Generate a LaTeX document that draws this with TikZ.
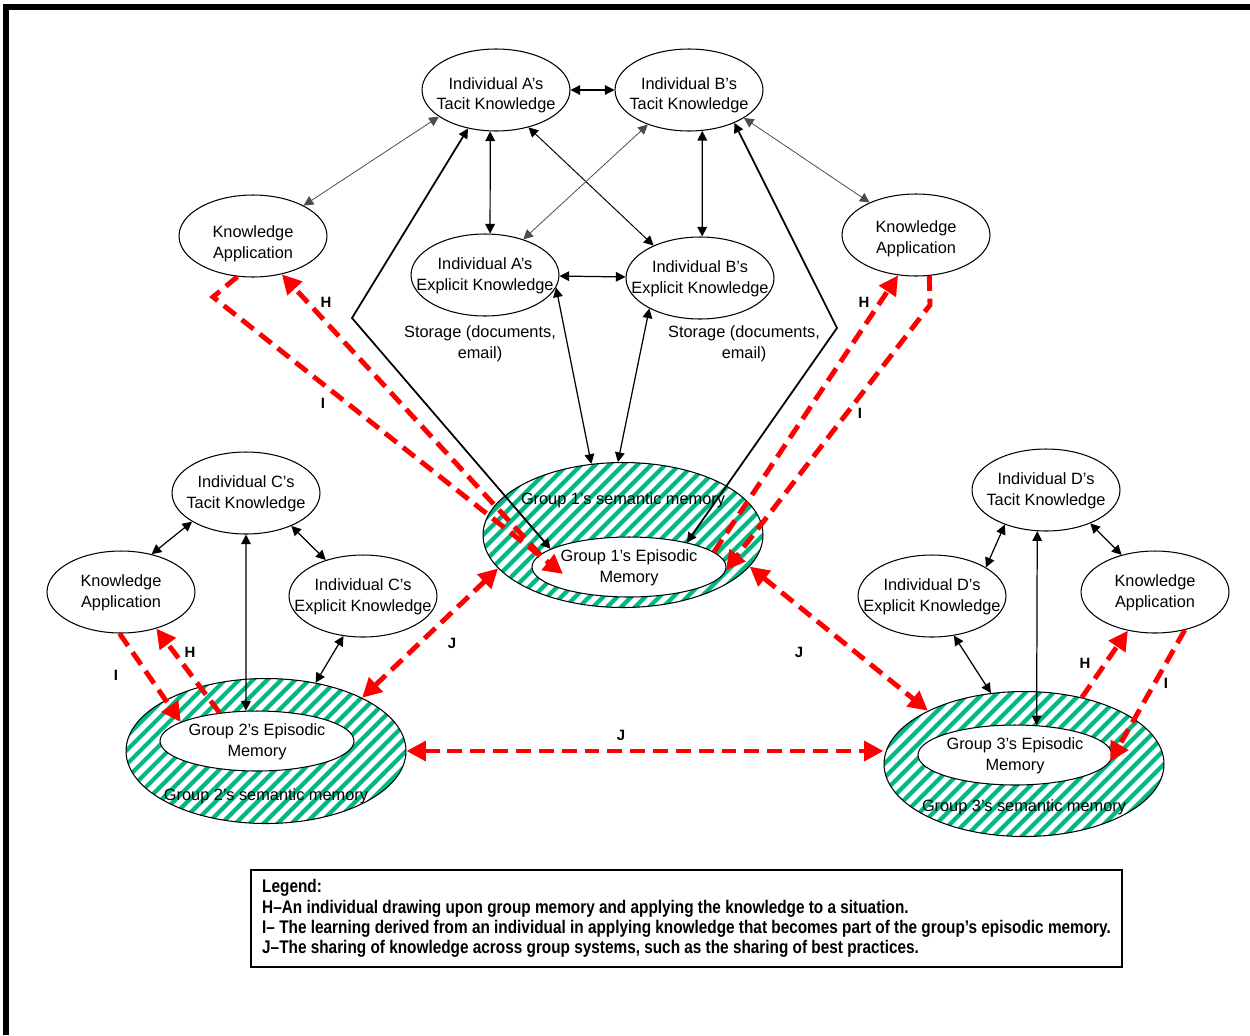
\documentclass[tikz,border=0pt]{standalone}
\usepackage{fontspec}
\setmainfont{Liberation Sans}
\newfontfamily\legendfont{Liberation Sans}[FakeStretch=0.84, Ligatures=TeX]
\usetikzlibrary{arrows.meta, shapes.geometric}

\definecolor{hatchgreen}{RGB}{0,184,132}
% two centred lines that do not widen the ellipse; optional drop of the text
\newcommand{\twoline}[2][0pt]{\raisebox{\dimexpr-2.5pt-#1\relax}[12pt][12pt]{%
    \makebox[0pt]{\begin{tabular}{@{}c@{}}#2\end{tabular}}}}

\begin{document}
\begin{tikzpicture}[
    x=0.02cm, y=-0.02cm,
    >={Triangle[length=5.5pt, width=5.5pt]},
    font=\fontsize{9.3}{11.9}\selectfont,
    ell/.style={ellipse, draw, line width=0.6pt, inner sep=0pt,
                minimum width=2.96cm, minimum height=1.64cm},
    sem/.style={ellipse, draw, line width=0.6pt, inner sep=0pt,
                minimum width=5.6cm, minimum height=2.9cm},
    epi/.style={ellipse, draw, fill=white, line width=0.6pt, inner sep=0pt,
                minimum width=3.88cm, minimum height=1.2cm},
    stripe/.style={draw=hatchgreen, line width=2.4pt},
    link/.style={<->, line width=0.7pt},
    faint/.style={<->, line width=0.45pt, draw=black!70},
    heavy/.style={<->, line width=1pt},
    rdash/.style={draw=red, line width=2.8pt, dash pattern=on 8.5pt off 4.5pt},
    hline/.style={rdash, >={Triangle[length=11pt, width=11pt]}, ->},
    jline/.style={rdash, >={Triangle[length=11pt, width=11pt]}, <->},
    tag/.style={font=\bfseries\fontsize{8.5}{10}\selectfont},
    legend/.style={draw, line width=1pt, inner sep=0pt, align=left,
                   minimum width=17.42cm, minimum height=1.94cm,
                   font=\legendfont\bfseries\fontsize{10.4}{11.6}\selectfont},
]
    \useasboundingbox (0,0) rectangle (1250,1035);

    % page frame, top and left edge only
    \draw[line width=3pt] (6,1035) -- (6,7) -- (1250,7);

    % group memories: hatched semantic ring
    \foreach \g/\cx/\cy in {1/623/535, 2/266/751, 3/1024/764} {
        \begin{scope}
            \clip (\cx,\cy) ellipse [x radius=2.8cm, y radius=1.45cm];
            \foreach \k in {-18,...,18}
                \draw[stripe] (\cx+\k*14-160, \cy+160) -- ++(320,-320);
        \end{scope}
        \node[sem] (sem\g) at (\cx,\cy) {};
    }

    % episodic cores and ring labels
    \node[epi] (epi1) at (629,567) {\twoline{Group 1's Episodic\\Memory}};
    \node[epi] (epi2) at (257,741) {\twoline{Group 2's Episodic\\Memory}};
    \node[epi] (epi3) at (1015,755) {\twoline{Group 3's Episodic\\Memory}};
    \node (lab1) at (623,500) {Group 1's semantic memory};
    \node (lab2) at (266,796) {Group 2's semantic memory};
    \node (lab3) at (1024,807) {Group 3's semantic memory};

    % individuals A and B
    \node[ell] (tacA) at (496,90) {\twoline[2.8pt]{Individual A's\\Tacit Knowledge}};
    \node[ell] (tacB) at (689,90) {\twoline[2.8pt]{Individual B's\\Tacit Knowledge}};
    \node[ell] (expA) at (485,275) {\twoline{Individual A's\\Explicit Knowledge}};
    \node[ell] (expB) at (700,278) {\twoline{Individual B's\\Explicit Knowledge}};
    \node[ell] (appA) at (253,236) {\twoline[4pt]{Knowledge\\Application}};
    \node[ell] (appB) at (916,235) {\twoline[2pt]{Knowledge\\Application}};
    \node[align=center] (stoA) at (480,344) {Storage (documents,\\email)};
    \node[align=center] (stoB) at (744,344) {Storage (documents,\\email)};

    % individual C
    \node[ell] (tacC) at (246,493) {\twoline{Individual C's\\Tacit Knowledge}};
    \node[ell] (appC) at (121,592) {\twoline{Knowledge\\Application}};
    \node[ell] (expC) at (363,596) {\twoline{Individual C's\\Explicit Knowledge}};

    % individual D
    \node[ell] (tacD) at (1046,490) {\twoline{Individual D's\\Tacit Knowledge}};
    \node[ell] (expD) at (932,596) {\twoline{Individual D's\\Explicit Knowledge}};
    \node[ell] (appD) at (1155,592) {\twoline{Knowledge\\Application}};

    % links A and B
    \draw[link] (tacA) -- (tacB);
    \draw[faint] (tacA.205) -- (appA.31);
    \draw[link] (tacA.262) -- (expA.83);
    \draw[link, line width=0.55pt] (tacA.-49) -- (expB.145);
    \draw[faint] (tacB.220) -- (expA.43);
    \draw[link] (tacB.288) -- (expB.87);
    \draw[link] (expA) -- (expB);
    \draw[faint] (tacB.-27) -- (appB.145);
    \draw[link] (expA.-10) -- (sem1.114);
    \draw[link] (expB.211) -- (sem1.94);
    \coordinate (bendA) at (352,318);
    \coordinate (bendB) at (837,328);
    \draw[heavy] (tacA.234) -- (bendA) -- (epi1.167);
    \draw[heavy] (tacB.-36) -- (bendB) -- (epi1.23);

    % links C
    \draw[link] (tacC.208) -- (appC.51);
    \draw[link] (tacC.-36) -- (expC.136);
    \draw[link] (tacC.270) -- (epi2.110);
    \draw[link] (expC.244) -- (sem2.54);

    % links D
    \draw[link] (tacD.220) -- (expD.28);
    \draw[link] (tacD.-37) -- (appD.132);
    \draw[link] (tacD.258) -- (epi3.54);
    \draw[link] (expD.-61) -- (sem3.115);

    % H: drawing on group memory, I: learning fed back
    \coordinate (bendIA) at (213,297);
    \coordinate (tipIA) at (563,574);
    \coordinate (bendIB) at (930,305);
    \draw[hline] (epi1.172) -- (appA.-53);
    \draw[hline] (appA.249) -- (bendIA) -- (tipIA);
    \draw[hline] (epi1.10) -- (appB.246);
    \draw[hline] (appB.288) -- (bendIB) -- (epi1.-2);
    \draw[hline] (epi2.143) -- (appC.-46);
    \draw[hline] (appC.268) -- (epi2.166);
    \draw[hline] (sem3.49) -- (appD.235);
    \draw[hline] (appD.-52) -- (epi3.-4);

    % J: sharing across groups
    \draw[jline] (sem1.195) -- (sem2.29);
    \draw[jline] (sem1.-14) -- (sem3.151);
    \draw[jline] (sem2.east) -- (sem2.east -| sem3.west);

    % arrow tags
    \node[tag] (tH1) at (326,302) {H};
    \node[tag] (tI1) at (323,403) {I};
    \node[tag] (tH2) at (864,302) {H};
    \node[tag] (tI2) at (860,413) {I};
    \node[tag] (tI3) at (116,675) {I};
    \node[tag] (tH3) at (190,652) {H};
    \node[tag] (tH4) at (1085,663) {H};
    \node[tag] (tI4) at (1166,683) {I};
    \node[tag] (tJ1) at (452,643) {J};
    \node[tag] (tJ2) at (799,652) {J};
    \node[tag] (tJ3) at (621,735) {J};

    % legend
    \node[legend] (key) at (686.5,918.5) {Legend:\\
        H--An individual drawing upon group memory and applying the knowledge to a situation.\\
        I-- The learning derived from an individual in applying knowledge that becomes part of the group's episodic memory.\\
        J--The sharing of knowledge across group systems, such as the sharing of best practices.};
\end{tikzpicture}
\end{document}
